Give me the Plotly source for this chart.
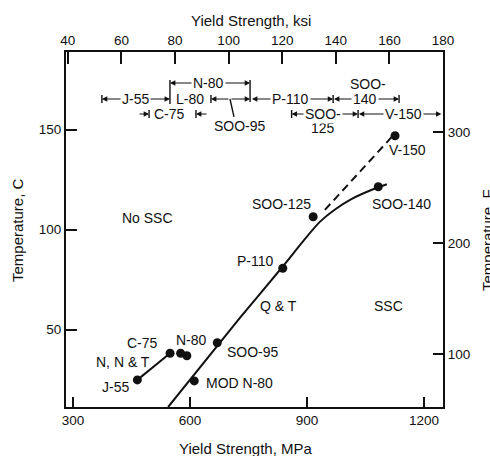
import plotly.graph_objects as go

# ---- measured points: yield strength (MPa) vs. highest temperature (C) ----
grades = ["J-55", "C-75", "N-80", "N-80", "SOO-95", "MOD N-80",
          "P-110", "SOO-125", "SOO-140", "V-150"]
ys_mpa = [465, 549, 576, 592, 670, 611, 838, 916, 1083, 1126]
temp_c = [24.9, 38.2, 38.2, 37.0, 43.5, 24.4, 80.7, 106.5, 121.5, 147.0]

# normalized / normalized & tempered trend
nnt_mpa = [465, 549]
nnt_c = [24.9, 38.2]

# quenched & tempered boundary between No SSC and SSC
qt_mpa = [544, 728, 838, 895, 933, 972, 1015, 1062, 1105]
qt_c = [11.35, 55.9, 81.6, 95.4, 103.9, 110.1, 115.4, 119.6, 122.7]

# extension of the boundary toward V-150
ext_mpa = [946, 1126]
ext_c = [109.9, 148.2]

# grade yield-strength bands on the ksi scale
band_names = ["N-80", "J-55", "SOO-95", "P-110", "SOO-140", "C-75", "SOO-125", "V-150"]
band_lo = [78.1, 52.7, 93.4, 108.7, 139.3, 70.3, 123.5, 148.3]
band_hi = [108.0, 78.1, 108.0, 139.0, 163.6, 87.8, 148.3, 180.0]

# axis ticks
mpa_ticks = [300, 600, 900, 1200]
ksi_ticks = [40, 60, 80, 100, 120, 140, 160, 180]
c_ticks = [50, 100, 150]
f_ticks = [100, 200, 300]

INK = "#111111"
FONT = "Liberation Sans, Arial, Helvetica, sans-serif"

c_range = [11.35, 188.85]
f_range = [c * 9 / 5 + 32 for c in c_range]

fig = go.Figure()

fig.add_trace(go.Scatter(x=qt_mpa, y=qt_c, mode="lines",
                         line=dict(color=INK, width=2, shape="spline", smoothing=0.6),
                         hoverinfo="skip"))
fig.add_trace(go.Scatter(x=ext_mpa, y=ext_c, mode="lines",
                         line=dict(color=INK, width=2, dash="8px,5px"),
                         hoverinfo="skip"))
fig.add_trace(go.Scatter(x=nnt_mpa, y=nnt_c, mode="lines",
                         line=dict(color=INK, width=2), hoverinfo="skip"))
fig.add_trace(go.Scatter(x=ys_mpa, y=temp_c, mode="markers", text=grades,
                         marker=dict(color=INK, size=9)))
# carries the ksi / Fahrenheit axes
fig.add_trace(go.Scatter(x=[None], y=[None], xaxis="x2", yaxis="y2",
                         mode="markers", hoverinfo="skip"))

annotations = []
shapes = []

# labels inside the plot (MPa, C)
point_labels = [
    ("C-75", 479, 43.4, "center"),
    ("N-80", 605, 44.9, "center"),
    ("N, N & T", 428, 33.9, "center"),
    ("J-55", 408, 21.4, "center"),
    ("SOO-95", 689, 38.9, "left"),
    ("MOD N-80", 636, 23.4, "left"),
    ("P-110", 767, 84.4, "center"),
    ("SOO-125", 835, 112.9, "center"),
    ("SOO-140", 1143, 112.7, "center"),
    ("V-150", 1159, 139.9, "center"),
    ("Q & T", 828, 61.9, "center"),
    ("SSC", 1108, 61.9, "center"),
    ("No SSC", 490, 105.9, "center"),
]
for txt, x, y, al in point_labels:
    annotations.append(dict(x=x, y=y, xref="x", yref="y", text=txt, showarrow=False,
                            xanchor=al, yanchor="middle",
                            font=dict(size=14, color=INK, family=FONT)))

# band rows on the ksi scale (y given in C)
ROW = [173.35, 165.35, 157.85, 151.35]
BAR = 2.0


def vbar(x, y0, y1):
    shapes.append(dict(type="line", xref="x2", yref="y", x0=x, x1=x, y0=y0, y1=y1,
                       line=dict(color=INK, width=1.4)))


def arrow(x_from, x_to, y):
    annotations.append(dict(x=x_to, y=y, ax=x_from, ay=y, xref="x2", yref="y",
                            axref="x2", ayref="y", text="", showarrow=True,
                            arrowhead=2, arrowsize=0.9, arrowwidth=1.2, arrowcolor=INK,
                            standoff=0, startstandoff=0))


def label(txt, x, y, bg=True):
    annotations.append(dict(x=x, y=y, xref="x2", yref="y", text=txt, showarrow=False,
                            xanchor="center", yanchor="middle",
                            bgcolor="white" if bg else "rgba(0,0,0,0)", borderpad=1,
                            font=dict(size=14, color=INK, family=FONT)))


band = dict(zip(band_names, zip(band_lo, band_hi)))
texts = []

# N-80 (row 1) with tall end bars reaching row 2
lo, hi = band["N-80"]
arrow(92.3, lo, ROW[0]); arrow(92.3, hi, ROW[0])
vbar(lo, ROW[0] + 1.5, ROW[1] - 2.5)
vbar(hi, ROW[0] + 1.5, ROW[1] - 1.5)
texts.append(("N-80", 92.3, ROW[0], True))

# J-55 (row 2)
lo, hi = band["J-55"]
arrow(65.05, lo, ROW[1]); arrow(65.05, hi, ROW[1])
vbar(lo, ROW[1] + BAR, ROW[1] - BAR)
texts.append(("J-55", 65.05, ROW[1], True))

# L-80 text and SOO-95 band (row 2)
texts.append(("L-80", 85.6, ROW[1], True))
lo, hi = band["SOO-95"]
arrow(100.5, lo, ROW[1]); arrow(100.5, hi, ROW[1])
vbar(lo, ROW[1] + BAR, ROW[1] - BAR)
shapes.append(dict(type="line", xref="x2", yref="y", x0=100.5, x1=102.0,
                   y0=ROW[1], y1=156.4, line=dict(color=INK, width=1.4)))
texts.append(("SOO-95", 104.2, 151.9, False))

# P-110 (row 2)
lo, hi = band["P-110"]
arrow(122.9, lo, ROW[1]); arrow(122.9, hi, ROW[1])
vbar(hi, ROW[1] + BAR, ROW[1] - BAR)
texts.append(("P-110", 122.9, ROW[1], True))

# SOO-140 (rows 1-2)
lo, hi = band["SOO-140"]
arrow(150.9, lo, ROW[1]); arrow(150.9, hi, ROW[1])
vbar(hi, ROW[1] + BAR, ROW[1] - BAR)
texts.append(("140", 150.9, ROW[1], True))
texts.append(("SOO-", 152.0, ROW[0] - 0.5, False))

# C-75 (row 3) marked from outside
lo, hi = band["C-75"]
arrow(66.2, lo, ROW[2]); arrow(92.3, hi, ROW[2])
vbar(lo, ROW[2] + BAR, ROW[2] - BAR)
vbar(hi, ROW[2] + BAR, ROW[2] - BAR)
texts.append(("C-75", 78.1, ROW[2], True))

# SOO-125 (rows 3-4)
lo, hi = band["SOO-125"]
arrow(135.2, lo, ROW[2]); arrow(135.2, hi, ROW[2])
vbar(lo, ROW[2] + BAR, ROW[2] - BAR)
vbar(hi, ROW[2] + BAR, ROW[2] - BAR)
texts.append(("125", 135.2, ROW[3] - 0.3, False))
texts.append(("SOO-", 135.2, ROW[2], True))

# V-150 (row 3)
lo, hi = band["V-150"]
arrow(165.1, lo + 0.3, ROW[2]); arrow(165.1, hi - 0.6, ROW[2])
texts.append(("V-150", 165.1, ROW[2], True))

for t, x, y, bg in texts:
    label(t, x, y, bg)

# axis titles
title_font = dict(size=15, color=INK, family=FONT)
annotations += [
    dict(text="Yield Strength, ksi", x=0.4907, y=1.0901, xref="paper", yref="paper",
         showarrow=False, xanchor="center", yanchor="middle", font=title_font),
    dict(text="Yield Strength, MPa", x=0.4775, y=-0.1155, xref="paper", yref="paper",
         showarrow=False, xanchor="center", yanchor="middle", font=title_font),
    dict(text="Temperature, C", x=-0.1273, y=0.4986, xref="paper", yref="paper",
         showarrow=False, xanchor="center", yanchor="middle", textangle=-90, font=title_font),
    dict(text="Temperature, F", x=1.1167, y=0.4704, xref="paper", yref="paper",
         showarrow=False, xanchor="center", yanchor="middle", textangle=-90, font=title_font),
]

axis_common = dict(ticks="inside", tickwidth=2, tickcolor=INK, showline=True,
                   linewidth=2, linecolor=INK, showgrid=False, zeroline=False,
                   tickfont=dict(size=13.5, color=INK, family=FONT))

fig.update_layout(
    width=490, height=456,
    margin=dict(l=66, r=47, t=52, b=49),
    paper_bgcolor="white", plot_bgcolor="white",
    showlegend=False,
    font=dict(family=FONT, size=14, color=INK),
    xaxis=dict(range=[282, 1249], tickvals=mpa_ticks, ticklen=10, **axis_common),
    xaxis2=dict(range=[39.3, 180], tickvals=ksi_ticks, ticklen=12, overlaying="x",
                side="top", anchor="y", **axis_common),
    yaxis=dict(range=c_range, tickvals=c_ticks, ticklen=11, **axis_common),
    yaxis2=dict(range=f_range, tickvals=f_ticks, ticklen=10, overlaying="y",
                side="right", anchor="x", **axis_common),
    annotations=annotations,
    shapes=shapes,
)

fig.write_html("out.html")
